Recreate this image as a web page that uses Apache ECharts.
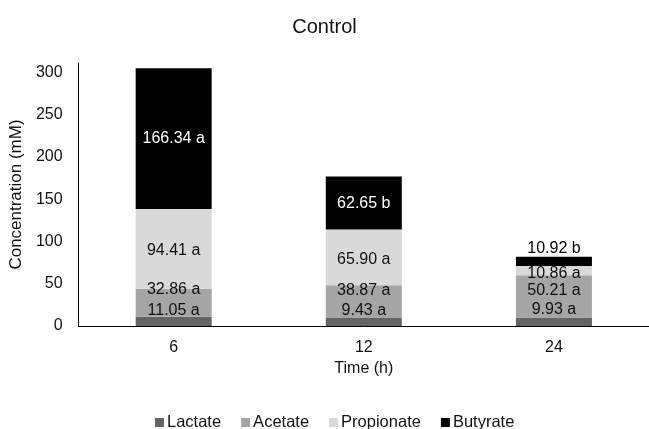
<!DOCTYPE html>
<html>
<head>
<meta charset="utf-8">
<script src="https://cdn.jsdelivr.net/npm/echarts@6/dist/echarts.min.js"></script>
<style>
  html, body { margin: 0; padding: 0; background: #fff; }
  #chart { width: 649px; height: 429px; }
</style>
</head>
<body>
<div id="chart"></div>
<script>
// Time points (h)
const categories = ['6', '12', '24'];

// Concentrations (mM) per acid
const lactate = [11.05, 9.43, 9.93];
const acetate = [32.86, 38.87, 50.21];
const propionate = [94.41, 65.90, 10.86];
const butyrate = [166.34, 62.65, 10.92];

// Significance letters shown after each value
const lactateTags = ['a', 'a', 'a'];
const acetateTags = ['a', 'a', 'a'];
const propionateTags = ['a', 'a', 'a'];
const butyrateTags = ['a', 'b', 'b'];

const yTicks = [0, 50, 100, 150, 200, 250, 300];

// Vertical nudges (px) keeping crowded labels apart
const labelShift = {
  Lactate: [-11, -11, -12],
  Acetate: [-13, -11, -6],
  Propionate: [2, 2, 3],
  Butyrate: [0, 1, -13]
};

const FONT = '"Liberation Sans", Arial, sans-serif';
const TEXT = '#111';

function makeSeries(name, values, tags, color, labelColors) {
  return {
    name: name,
    type: 'bar',
    stack: 'total',
    barWidth: 76,
    itemStyle: { color: color },
    emphasis: { disabled: true },
    data: values.map(function (v, i) {
      return {
        value: v,
        label: {
          offset: [0, labelShift[name][i]],
          color: labelColors[i]
        }
      };
    }),
    label: {
      show: true,
      position: 'inside',
      fontFamily: FONT,
      fontSize: 16,
      formatter: function (p) {
        return p.value.toFixed(2) + ' ' + tags[p.dataIndex];
      }
    }
  };
}

const chart = echarts.init(document.getElementById('chart'), null, { renderer: 'canvas' });
chart.setOption({
  animation: false,
  backgroundColor: '#fff',
  title: {
    text: 'Control',
    left: 'center',
    top: 12,
    textStyle: { fontFamily: FONT, fontSize: 20, fontWeight: 'normal', color: TEXT }
  },
  legend: {
    top: 409,
    left: 150,
    itemWidth: 9,
    itemHeight: 9,
    itemGap: 20,
    icon: 'rect',
    textStyle: { fontFamily: FONT, fontSize: 16.5, color: TEXT, padding: [0, 0, 0, -2] },
    data: ['Lactate', 'Acetate', 'Propionate', 'Butyrate']
  },
  grid: { left: 78, top: 63, width: 573, height: 263, containLabel: false },
  xAxis: {
    type: 'category',
    data: categories,
    name: 'Time (h)',
    nameLocation: 'middle',
    nameGap: 34,
    nameTextStyle: { fontFamily: FONT, fontSize: 16, color: TEXT },
    axisLine: { lineStyle: { color: '#000', width: 1 } },
    axisTick: { show: false },
    axisLabel: { fontFamily: FONT, fontSize: 16, color: TEXT, margin: 14 }
  },
  yAxis: {
    type: 'value',
    min: 0,
    max: 311,
    interval: 50,
    name: 'Concentration (mM)',
    nameLocation: 'middle',
    nameGap: 47,
    nameTextStyle: { fontFamily: FONT, fontSize: 17, color: TEXT },
    axisLine: { show: true, lineStyle: { color: '#000', width: 1 } },
    axisTick: { show: false },
    splitLine: { show: false },
    axisLabel: {
      fontFamily: FONT, fontSize: 16, color: TEXT, margin: 16,
      showMaxLabel: false,
      formatter: function (v) { return yTicks.indexOf(v) >= 0 ? String(v) : ''; }
    }
  },
  series: [
    makeSeries('Lactate', lactate, lactateTags, '#646464', [TEXT, TEXT, TEXT]),
    makeSeries('Acetate', acetate, acetateTags, '#a5a5a5', [TEXT, TEXT, TEXT]),
    makeSeries('Propionate', propionate, propionateTags, '#d9d9d9', [TEXT, TEXT, TEXT]),
    makeSeries('Butyrate', butyrate, butyrateTags, '#000000', ['#fff', '#fff', '#000'])
  ]
});
</script>
</body>
</html>
